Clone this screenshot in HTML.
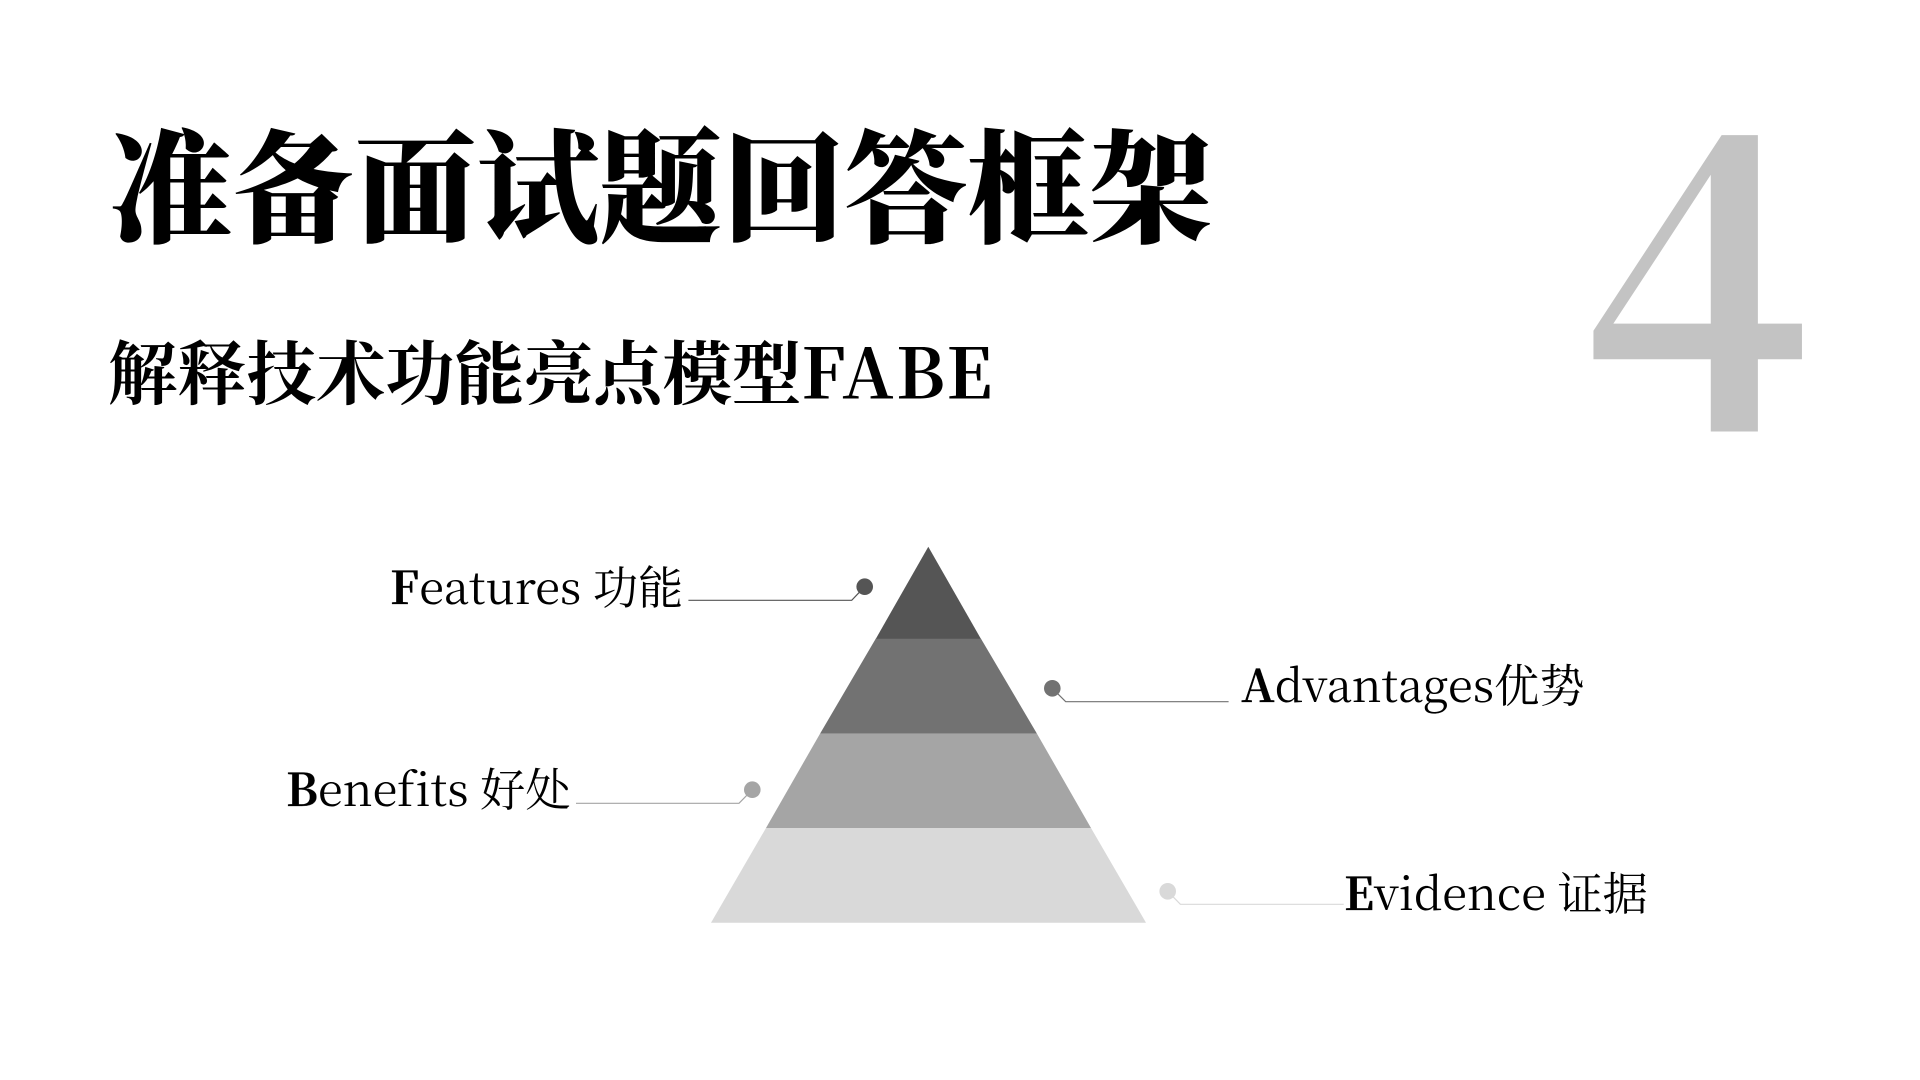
<!DOCTYPE html>
<html><head><meta charset="utf-8">
<style>
html,body{margin:0;padding:0;background:#fff;width:1920px;height:1080px;overflow:hidden}
svg{display:block}
text{font-family:"Noto Serif CJK SC",serif;font-variant-ligatures:none}
.l{font-size:45.2px;fill:#000}
.l tspan{font-weight:700;stroke:#000;stroke-width:.25px}
</style></head><body>
<svg width="1920" height="1080" viewBox="0 0 1920 1080" xmlns="http://www.w3.org/2000/svg">
<text x="109.500" y="233" font-size="122.500" font-weight="900" fill="#000">准备面试题回答框架</text>
<text x="108" y="398.500" font-size="69.330" font-weight="700" fill="#000">解释技术功能亮点模型<tspan letter-spacing="2.600">FABE</tspan></text>
<text transform="translate(1582.500,425) scale(.972,1)" x="0" y="0" font-size="401" font-weight="700" fill="#c3c3c3">4</text>
<polygon points="928.3,546.7 981,639 875.7,639" fill="#555"/>
<polygon points="875.7,638.7 981,638.7 1037,733.7 820,733.7" fill="#727272"/>
<polygon points="820,733.7 1037,733.7 1091,828 766,828" fill="#a5a5a5"/>
<polygon points="766,828 1091,828 1146,922.7 711,922.7" fill="#d9d9d9"/>
<polyline points="688.4,600.3 851.7,600.3 864.7,586.7" fill="none" stroke="#555" stroke-width="1.2"/>
<circle cx="864.7" cy="586.7" r="8.3" fill="#555"/>
<polyline points="1052.3,688.3 1065.7,701.7 1228.6,701.7" fill="none" stroke="#727272" stroke-width="1.2"/>
<circle cx="1052.3" cy="688.3" r="8.3" fill="#727272"/>
<polyline points="576,803.3 739,803.3 752.3,789.7" fill="none" stroke="#a5a5a5" stroke-width="1.2"/>
<circle cx="752.3" cy="789.7" r="8.3" fill="#a5a5a5"/>
<polyline points="1167.7,891.3 1180.4,904.3 1343.7,904.3" fill="none" stroke="#d9d9d9" stroke-width="1.2"/>
<circle cx="1167.7" cy="891.3" r="8.3" fill="#d9d9d9"/>
<text class="l" x="390" y="604"><tspan>F</tspan>eatures 功能</text>
<text class="l" x="1241" y="702"><tspan>A</tspan>dvantages优势</text>
<text class="l" x="286" y="806"><tspan>B</tspan>enefits 好处</text>
<text class="l" x="1344" y="910"><tspan>E</tspan>vidence 证据</text>
</svg>
</body></html>
